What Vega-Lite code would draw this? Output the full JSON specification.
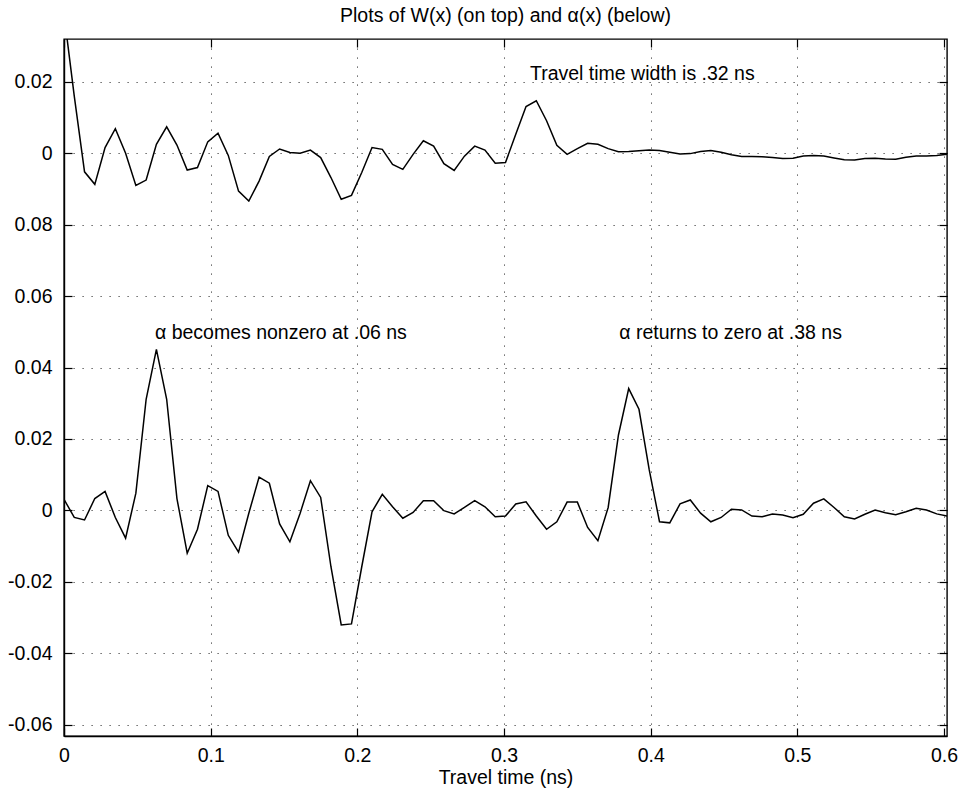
{
  "$schema": "https://vega.github.io/schema/vega-lite/v6.json",
  "width": 883,
  "height": 697,
  "autosize": {"type": "none"},
  "padding": {"left": 64, "top": 39, "right": 11, "bottom": 54},
  "background": "white",
  "title": {
    "text": "Plots of W(x) (on top) and α(x) (below)",
    "font": "Liberation Sans",
    "fontSize": 19.5,
    "fontWeight": "normal",
    "color": "#000",
    "anchor": "middle",
    "offset": 12
  },
  "datasets": {
    "curves": [
      {"t": 0, "W": 0.039, "alpha": 0.0031},
      {"t": 0.007, "W": 0.016, "alpha": -0.002},
      {"t": 0.014, "W": -0.0052, "alpha": -0.0027},
      {"t": 0.021, "W": -0.0087, "alpha": 0.0033},
      {"t": 0.028, "W": 0.0016, "alpha": 0.0053},
      {"t": 0.035, "W": 0.0069, "alpha": -0.002},
      {"t": 0.042, "W": 0.0, "alpha": -0.0078},
      {"t": 0.049, "W": -0.009, "alpha": 0.0048},
      {"t": 0.056, "W": -0.0075, "alpha": 0.0311},
      {"t": 0.063, "W": 0.0025, "alpha": 0.0451},
      {"t": 0.07, "W": 0.0074, "alpha": 0.0311},
      {"t": 0.077, "W": 0.0023, "alpha": 0.0033},
      {"t": 0.084, "W": -0.0047, "alpha": -0.012},
      {"t": 0.091, "W": -0.004, "alpha": -0.0053},
      {"t": 0.098, "W": 0.0032, "alpha": 0.0069},
      {"t": 0.105, "W": 0.0056, "alpha": 0.0053},
      {"t": 0.112, "W": -0.0006, "alpha": -0.007},
      {"t": 0.119, "W": -0.0106, "alpha": -0.0117},
      {"t": 0.126, "W": -0.0134, "alpha": -0.0008},
      {"t": 0.133, "W": -0.0078, "alpha": 0.0093},
      {"t": 0.14, "W": -0.0009, "alpha": 0.0076},
      {"t": 0.147, "W": 0.0012, "alpha": -0.0038},
      {"t": 0.154, "W": 0.0002, "alpha": -0.0088},
      {"t": 0.161, "W": 0.0, "alpha": -0.0008},
      {"t": 0.168, "W": 0.0009, "alpha": 0.0083},
      {"t": 0.175, "W": -0.0012, "alpha": 0.0036},
      {"t": 0.182, "W": -0.0068, "alpha": -0.0158},
      {"t": 0.189, "W": -0.0129, "alpha": -0.0321},
      {"t": 0.196, "W": -0.0118, "alpha": -0.0318},
      {"t": 0.203, "W": -0.0054, "alpha": -0.0158},
      {"t": 0.21, "W": 0.0016, "alpha": -0.0004},
      {"t": 0.217, "W": 0.0011, "alpha": 0.0045},
      {"t": 0.224, "W": -0.0031, "alpha": 0.001},
      {"t": 0.231, "W": -0.0045, "alpha": -0.0022},
      {"t": 0.238, "W": -0.0003, "alpha": -0.0006},
      {"t": 0.245, "W": 0.0035, "alpha": 0.0027},
      {"t": 0.252, "W": 0.002, "alpha": 0.0027},
      {"t": 0.259, "W": -0.0029, "alpha": -0.0001},
      {"t": 0.266, "W": -0.0048, "alpha": -0.001},
      {"t": 0.273, "W": -0.0008, "alpha": 0.0008},
      {"t": 0.28, "W": 0.002, "alpha": 0.0027},
      {"t": 0.287, "W": 0.0009, "alpha": 0.001},
      {"t": 0.294, "W": -0.0028, "alpha": -0.0018},
      {"t": 0.301, "W": -0.0026, "alpha": -0.0016},
      {"t": 0.308, "W": 0.0053, "alpha": 0.0018},
      {"t": 0.315, "W": 0.0131, "alpha": 0.0024},
      {"t": 0.322, "W": 0.0147, "alpha": -0.0016},
      {"t": 0.329, "W": 0.0091, "alpha": -0.0053},
      {"t": 0.336, "W": 0.0022, "alpha": -0.0032},
      {"t": 0.343, "W": -0.0003, "alpha": 0.0023},
      {"t": 0.35, "W": 0.0013, "alpha": 0.0023},
      {"t": 0.357, "W": 0.0028, "alpha": -0.0048},
      {"t": 0.364, "W": 0.0025, "alpha": -0.0085},
      {"t": 0.371, "W": 0.0013, "alpha": 0.0008},
      {"t": 0.378, "W": 0.0004, "alpha": 0.0211},
      {"t": 0.385, "W": 0.0005, "alpha": 0.0341},
      {"t": 0.392, "W": 0.0007, "alpha": 0.0283},
      {"t": 0.399, "W": 0.0009, "alpha": 0.0113},
      {"t": 0.406, "W": 0.0008, "alpha": -0.0032},
      {"t": 0.413, "W": 0.0003, "alpha": -0.0035},
      {"t": 0.42, "W": -0.0002, "alpha": 0.0018},
      {"t": 0.427, "W": -0.0001, "alpha": 0.0029},
      {"t": 0.434, "W": 0.0005, "alpha": -0.0008},
      {"t": 0.441, "W": 0.0008, "alpha": -0.0032},
      {"t": 0.448, "W": 0.0003, "alpha": -0.002},
      {"t": 0.455, "W": -0.0004, "alpha": 0.0003},
      {"t": 0.462, "W": -0.0009, "alpha": 0.0001},
      {"t": 0.469, "W": -0.0009, "alpha": -0.0016},
      {"t": 0.476, "W": -0.001, "alpha": -0.0018},
      {"t": 0.483, "W": -0.0012, "alpha": -0.001},
      {"t": 0.49, "W": -0.0015, "alpha": -0.0013},
      {"t": 0.497, "W": -0.0014, "alpha": -0.0021},
      {"t": 0.504, "W": -0.0008, "alpha": -0.0011},
      {"t": 0.511, "W": -0.0006, "alpha": 0.002},
      {"t": 0.518, "W": -0.0008, "alpha": 0.0032},
      {"t": 0.525, "W": -0.0013, "alpha": 0.0008},
      {"t": 0.532, "W": -0.0018, "alpha": -0.0018},
      {"t": 0.539, "W": -0.0019, "alpha": -0.0024},
      {"t": 0.546, "W": -0.0015, "alpha": -0.0011},
      {"t": 0.553, "W": -0.0014, "alpha": 0.0001},
      {"t": 0.56, "W": -0.0016, "alpha": -0.0007},
      {"t": 0.567, "W": -0.0017, "alpha": -0.0012},
      {"t": 0.574, "W": -0.0011, "alpha": -0.0004},
      {"t": 0.581, "W": -0.0008, "alpha": 0.0006},
      {"t": 0.588, "W": -0.0008, "alpha": 0.0001},
      {"t": 0.595, "W": -0.0006, "alpha": -0.001},
      {"t": 0.602, "W": -0.0003, "alpha": -0.0016}
    ],
    "notesAlpha": [
      {"t": 0.062, "alpha": 0.0496, "label": "α becomes nonzero at .06 ns"},
      {"t": 0.3786, "alpha": 0.0496, "label": "α returns to zero at .38 ns"}
    ],
    "notesW": [
      {"t": 0.3177, "W": 0.0222, "label": "Travel time width is .32 ns"}
    ]
  },
  "layer": [
    {
      "encoding": {
        "x": {
          "field": "t",
          "type": "quantitative",
          "scale": {"domain": [0, 0.602], "nice": false, "zero": false},
          "axis": {
            "orient": "bottom",
            "values": [0, 0.1, 0.2, 0.3, 0.4, 0.5, 0.6],
            "labelExpr": "datum.value == 0 ? '0' : format(datum.value, '.1f')",
            "title": "Travel time (ns)",
            "labelPadding": 18,
            "titlePadding": 4,
            "labelFlush": false,
            "labelOverlap": false,
            "grid": true
          }
        },
        "y": {
          "field": "alpha",
          "type": "quantitative",
          "scale": {"domain": [-0.0632, 0.132], "nice": false, "zero": false},
          "axis": {
            "orient": "left",
            "values": [-0.06, -0.04, -0.02, 0, 0.02, 0.04, 0.06, 0.08, 0.1, 0.12],
            "labelExpr": "datum.value > 0.11 ? '0.02' : datum.value > 0.09 ? '0' : abs(datum.value) < 0.001 ? '0' : datum.value < 0 ? '-' + format(-datum.value, '.2f') : format(datum.value, '.2f')",
            "title": null,
            "labelPadding": 20,
            "labelOverlap": false,
            "labelFlush": false,
            "grid": true
          }
        }
      },
      "layer": [
        {
          "data": {"name": "curves"},
          "mark": {"type": "line", "color": "#000", "strokeWidth": 1.5, "clip": true}
        },
        {
          "data": {"name": "notesAlpha"},
          "mark": {"type": "text", "align": "left", "baseline": "middle", "font": "Liberation Sans", "fontSize": 19.5, "color": "#000"},
          "encoding": {"text": {"field": "label"}}
        }
      ]
    },
    {
      "encoding": {
        "x": {
          "field": "t",
          "type": "quantitative",
          "scale": {"domain": [0, 0.602], "nice": false, "zero": false},
          "axis": {
            "orient": "top",
            "values": [0, 0.1, 0.2, 0.3, 0.4, 0.5, 0.6],
            "labels": false,
            "title": null,
            "domain": false,
            "grid": false
          }
        },
        "y": {
          "field": "W",
          "type": "quantitative",
          "scale": {"domain": [-0.1632, 0.032], "nice": false, "zero": false},
          "axis": {
            "orient": "right",
            "values": [-0.16, -0.14, -0.12, -0.1, -0.08, -0.06, -0.04, -0.02, 0, 0.02],
            "labels": false,
            "title": null,
            "domain": false,
            "grid": false
          }
        }
      },
      "layer": [
        {
          "data": {"name": "curves"},
          "mark": {"type": "line", "color": "#000", "strokeWidth": 1.5, "clip": true}
        },
        {
          "data": {"name": "notesW"},
          "mark": {"type": "text", "align": "left", "baseline": "middle", "font": "Liberation Sans", "fontSize": 19.5, "color": "#000"},
          "encoding": {"text": {"field": "label"}}
        }
      ]
    }
  ],
  "resolve": {
    "scale": {"y": "independent"},
    "axis": {"x": "independent", "y": "independent"}
  },
  "config": {
    "font": "Liberation Sans",
    "view": {"stroke": "#000", "strokeWidth": 1.4},
    "axis": {
      "labelFont": "Liberation Sans",
      "labelFontSize": 19.5,
      "labelColor": "#000",
      "titleFont": "Liberation Sans",
      "titleFontSize": 19.5,
      "titleFontWeight": "normal",
      "titleColor": "#000",
      "domainColor": "#000",
      "domainWidth": 1.4,
      "tickColor": "#000",
      "tickWidth": 1.2,
      "tickSize": -8,
      "gridColor": "#000",
      "gridDash": [1.2, 7.8],
      "gridOpacity": 0.75,
      "gridWidth": 1
    }
  }
}
